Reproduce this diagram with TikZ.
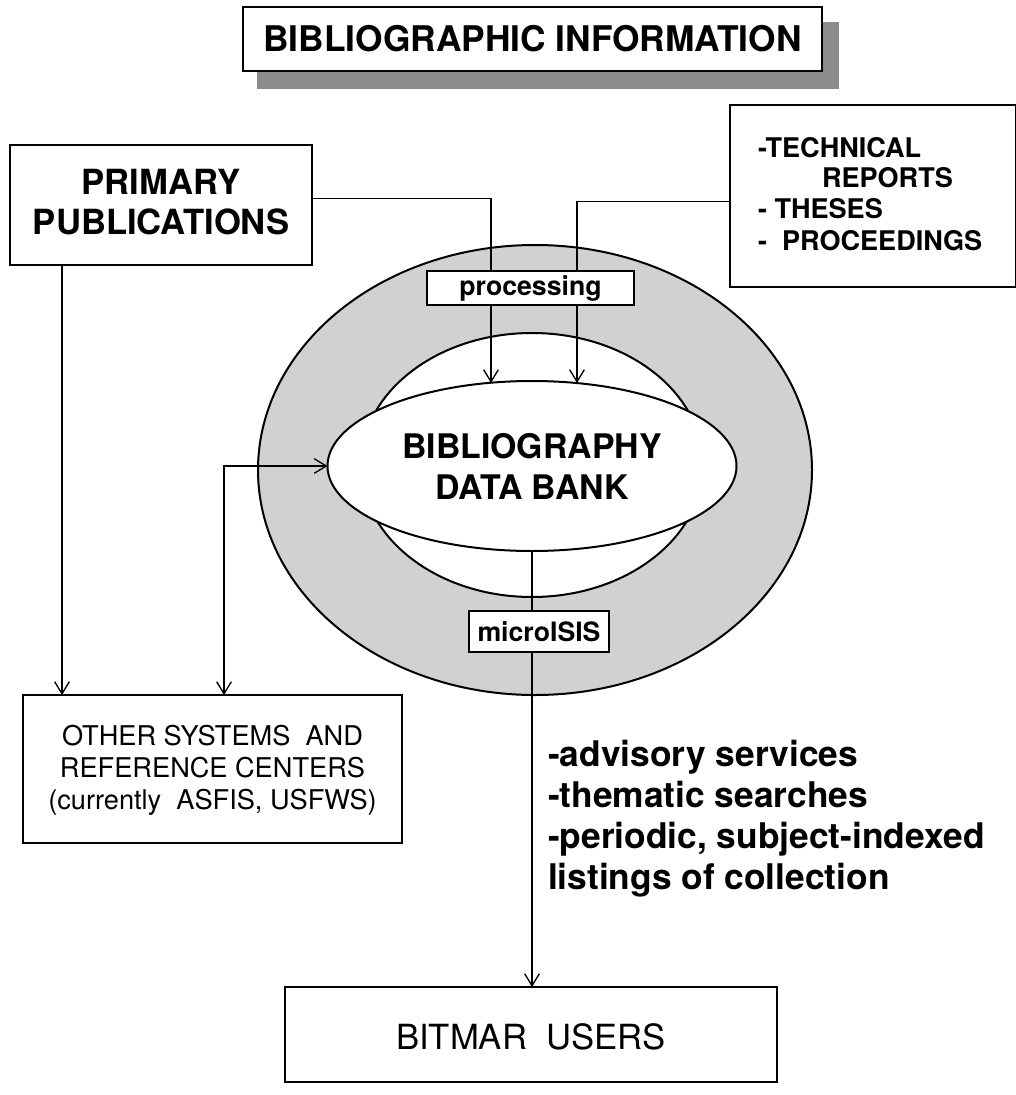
\documentclass[tikz,border=0pt]{standalone}
\usepackage{fontspec}
\setmainfont{TeX Gyre Heros}
\usetikzlibrary{arrows.meta,shapes.geometric,fit}
\definecolor{ringgray}{gray}{0.82}
\definecolor{shadowgray}{gray}{0.55}
\begin{document}
\begin{tikzpicture}[x=0.75pt,y=-0.75pt,
  box/.style={draw, line width=1.4pt, fill=white, inner sep=0pt, outer sep=0pt},
  conn/.style={line width=1pt, -{Straight Barb[length=9pt,width=11pt,line width=1pt]}},
  conntwo/.style={line width=1pt, {Straight Barb[length=9pt,width=11pt,line width=1pt]}-{Straight Barb[length=9pt,width=11pt,line width=1pt]}},
  bigbold/.style={font=\fontsize{26.5}{30.75}\selectfont\bfseries},
  midbold/.style={font=\fontsize{20.3}{23.25}\selectfont\bfseries},
  lbl/.style={inner sep=0pt, outer sep=0pt}
]
\useasboundingbox (0,0) rectangle (1016,1095);

% title with shadow
\fill[shadowgray] (257,22) rectangle (839,89);
\node[box, fit={(243,7)(822,71)}] (title) {};
\node[lbl, font=\fontsize{26.5}{30}\selectfont\bfseries] (titletext) at (title.center) {BIBLIOGRAPHIC INFORMATION};

% ring and hole
\draw[line width=1.5pt, fill=ringgray] (535,470) ellipse [x radius=207.75pt, y radius=168.75pt];
\draw[line width=1.5pt, fill=white] (532,465) ellipse [x radius=128.25pt, y radius=99pt];

% boxes
\node[box, fit={(10,145)(312,265)}] (prim) {};
\node[lbl, align=center, font=\fontsize{26}{30}\selectfont\bfseries] (primtext) at ([yshift=2pt]prim.center) {PRIMARY\\PUBLICATIONS};
\node[box, fit={(730,105)(1016,287)}] (tech) {};
\node[lbl, anchor=base west, midbold] (t1) at (758,157) {-TECHNICAL};
\node[lbl, anchor=base west, midbold] (t2) at (822,187) {REPORTS};
\node[lbl, anchor=base west, midbold] (t3) at (758,218) {- THESES};
\node[lbl, anchor=base west, midbold] (t4) at (758,250) {-\ \ PROCEEDINGS};
\node[box, fit={(23,695)(402,843)}] (oth) {};
\node[lbl, align=center, font=\fontsize{20.4}{24}\selectfont] (othtext) at ([yshift=-1pt]oth.center) {OTHER SYSTEMS\ \ AND\\REFERENCE CENTERS\\(currently\ \ ASFIS, USFWS)};
\node[box, fit={(285,987)(777,1082)}] (users) {};
\node[lbl, font=\fontsize{26}{30}\selectfont] (userstext) at ([yshift=-2pt]users.center) {BITMAR\ \ USERS};

% data bank
\node[ellipse, draw, line width=1.5pt, fill=white, inner sep=0pt, outer sep=0pt,
      minimum width=306.75pt, minimum height=127.5pt] (bank) at (532,466) {};
\node[lbl, align=center, font=\fontsize{25.4}{30.75}\selectfont\bfseries] (banktext) at (bank.center) {BIBLIOGRAPHY\\DATA BANK};

% connector anchors
\coordinate (a1) at (491,383);
\coordinate (a2) at (577,383);
\coordinate (colL) at (224,0);
\coordinate (colP) at (62,0);

\draw[conn] ([yshift=5pt]prim.east) -| (a1);
\draw[conn] ([yshift=-4pt]tech.west) -| (a2);
\draw[conn] (prim.south -| colP) -- (oth.north -| colP);
\draw[conntwo] (bank.west) -| (oth.north -| colL);
\draw[conn] (bank.south) -- (bank.south |- users.north);

% labels on the ring
\node[box, fit={(427,271)(634,305)}] (proc) {};
\node[lbl, font=\fontsize{20}{24}\selectfont\bfseries] (proctext) at (proc.center) {processing};
\node[box, fit={(469,611)(609,652)}] (micro) {};
\node[lbl, font=\fontsize{20}{24}\selectfont\bfseries] (microtext) at (micro.center) {microISIS};

% services text
\node[lbl, anchor=west, bigbold, align=left] (serv) at (548,819)
  {-advisory services\\-thematic searches\\-periodic, subject-indexed\\listings of collection};
\end{tikzpicture}
\end{document}
